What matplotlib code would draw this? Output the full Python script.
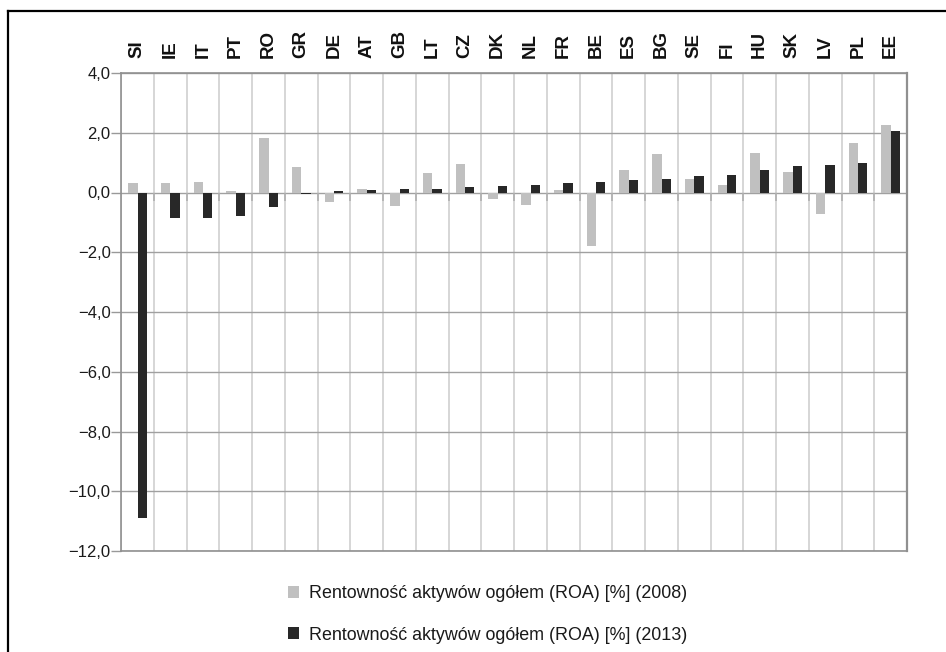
import matplotlib
matplotlib.use("Agg")
import matplotlib.pyplot as plt
import numpy as np
from matplotlib.lines import Line2D
from matplotlib.ticker import FuncFormatter, FixedLocator

countries = ["SI", "IE", "IT", "PT", "RO", "GR", "DE", "AT", "GB", "LT", "CZ", "DK",
             "NL", "FR", "BE", "ES", "BG", "SE", "FI", "HU", "SK", "LV", "PL", "EE"]
roa_2008 = [0.31, 0.31, 0.35, 0.05, 1.83, 0.85, -0.31, 0.12, -0.45, 0.65, 0.96, -0.21,
            -0.42, 0.09, -1.80, 0.75, 1.29, 0.45, 0.25, 1.33, 0.69, -0.72, 1.66, 2.26]
roa_2013 = [-10.91, -0.85, -0.85, -0.79, -0.48, -0.05, 0.05, 0.08, 0.11, 0.11, 0.18, 0.21,
            0.25, 0.31, 0.35, 0.42, 0.45, 0.55, 0.58, 0.75, 0.89, 0.92, 0.99, 2.07]
y_ticks = [4, 2, 0, -2, -4, -6, -8, -10, -12]
legend_labels = ["Rentowność aktywów ogółem (ROA) [%] (2008)",
                 "Rentowność aktywów ogółem (ROA) [%] (2013)"]

plt.rcParams['font.family'] = ['Liberation Sans', 'DejaVu Sans']

W, H = 946, 652
fig = plt.figure(figsize=(W / 100, H / 100), dpi=100)
ax = fig.add_axes([121 / W, 1 - 551 / H, (907 - 121) / W, (551 - 73) / H])

x = np.arange(len(countries))
w = 0.285
c08 = "#c0c0c0"
c13 = "#282828"
b1 = ax.bar(x - w / 2 + 0.005, roa_2008, w, color=c08, zorder=3)
b2 = ax.bar(x + w / 2 + 0.005, roa_2013, w, color=c13, zorder=3)

ax.set_xlim(-0.5, len(countries) - 0.5)
ax.set_ylim(-12, 4)

# y axis
ax.yaxis.set_major_locator(FixedLocator(y_ticks))
def fmt(v, pos):
    s = f"{abs(v):.1f}".replace(".", ",")
    return ("\u2212" + s) if v < 0 else s
ax.yaxis.set_major_formatter(FuncFormatter(fmt))
ax.tick_params(axis='y', length=7, width=1, color="#999999", pad=0.5,
               labelsize=12, labelcolor="#1a1a1a")
ax.grid(axis='y', color="#a0a0a0", linewidth=1.0, zorder=1)

# x axis: labels on top, vertical grid at category boundaries
ax.set_xticks(x)
ax.set_xticklabels(countries, rotation=90, fontweight='bold', fontsize=13.5)
ax.tick_params(axis='x', which='major', top=True, labeltop=True, bottom=False,
               labelbottom=False, length=0, pad=11, labelcolor="#111111")
ax.set_xticks(np.arange(len(countries) + 1) - 0.5, minor=True)
ax.tick_params(axis='x', which='minor', length=0, top=False, bottom=False)
ax.grid(axis='x', which='minor', color="#d0d0d0", linewidth=1.2, zorder=1)

# small category ticks under the zero line
ax.vlines(np.arange(1, len(countries)) - 0.5, -0.27, 0, color="#b0b0b0",
          linewidth=1.2, zorder=2)

for side in ['left', 'right', 'top', 'bottom']:
    ax.spines[side].set_color("#909090")
    ax.spines[side].set_linewidth(1.2)
ax.spines['right'].set_linewidth(1.6)

# legend
leg = fig.legend([b1, b2], legend_labels, loc='upper left',
                 bbox_to_anchor=(281 / W, 1 - 578 / H), frameon=False,
                 fontsize=12.9, handlelength=0.62, handleheight=0.62,
                 handletextpad=0.55, labelspacing=1.36, borderaxespad=0)
for t in leg.get_texts():
    t.set_color("#1a1a1a")

# outer frame (top and left edges visible)
fig.add_artist(Line2D([8 / W, 1.0], [1 - 11 / H, 1 - 11 / H], transform=fig.transFigure,
                      color="black", linewidth=1.6))
fig.add_artist(Line2D([8 / W, 8 / W], [1 - 11 / H, 0.0], transform=fig.transFigure,
                      color="black", linewidth=1.6))

fig.savefig("out.png", dpi=100)
